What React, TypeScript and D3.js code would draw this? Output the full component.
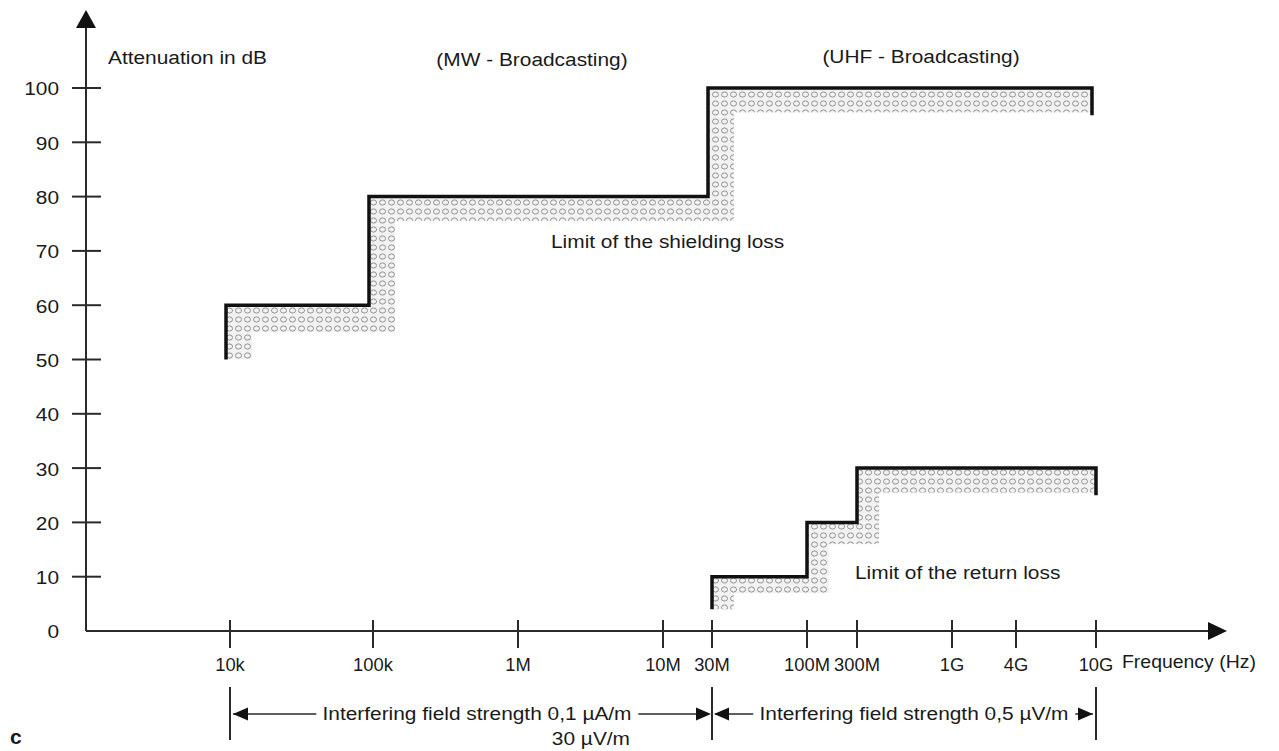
import React from "react";
import * as d3 from "d3";

// ---------- data ----------
const freqTicks = [1e4, 1e5, 1e6, 1e7, 3e7, 1e8, 3e8, 1e9, 4e9, 1e10];
const freqLabels = ["10k", "100k", "1M", "10M", "30M", "100M", "300M", "1G", "4G", "10G"];
const dbTicks = [0, 10, 20, 30, 40, 50, 60, 70, 80, 90, 100];

// Limit of the shielding loss (step curve)
const shieldEdges = [1e4, 1e5, 3e7, 1e10];
const shieldLevels = [60, 80, 100];
const shieldStart = 50;
const shieldEnd = 95;
const shieldHatchDepth = [5, 4.5, 4.5];

// Limit of the return loss (step curve)
const returnEdges = [3e7, 1e8, 3e8, 1e10];
const returnLevels = [10, 20, 30];
const returnStart = 4;
const returnEnd = 25;
const returnHatchDepth = [3, 4, 4.5];

// ---------- layout ----------
const W = 1279;
const H = 751;
const axisX = 86;
const axisY = 631;
const yTopPx = 88;
// schematic (non-uniform) frequency axis: pixel position of each tick
const xRangePx = [230, 373, 518, 663, 712, 807, 857, 952, 1016, 1096];

const x = d3.scaleLog().domain(freqTicks).range(xRangePx);
const y = d3.scaleLinear().domain([0, 100]).range([axisY, yTopPx]);

const FONT = "'Liberation Sans', Arial, sans-serif";
const SX = 1.16;

type TProps = {
  x: number;
  y: number;
  anchor?: "start" | "middle" | "end";
  size?: number;
  children: React.ReactNode;
  halo?: boolean;
  weight?: string;
  sx?: number;
};
function T({ x: tx, y: ty, anchor = "start", size = 18, children, halo, weight, sx = SX }: TProps) {
  return (
    <text
      transform={`translate(${tx},${ty}) scale(${sx},1)`}
      textAnchor={anchor}
      dominantBaseline="central"
      fontFamily={FONT}
      fontSize={size}
      fontWeight={weight}
      fill="#1a1a1a"
      stroke={halo ? "#fff" : undefined}
      strokeWidth={halo ? 14 : undefined}
      strokeLinejoin={halo ? "round" : undefined}
      paintOrder={halo ? "stroke" : undefined}
    >
      {children}
    </text>
  );
}

function stepPoints(edges: number[], levels: number[], start: number, end: number) {
  const pts: [number, number][] = [[edges[0], start]];
  levels.forEach((lv, i) => {
    pts.push([edges[i], lv]);
    pts.push([edges[i + 1], lv]);
  });
  pts.push([edges[edges.length - 1], end]);
  return pts;
}

function hatchRects(
  edges: number[],
  levels: number[],
  start: number,
  depth: number[],
  w: number,
  dx: number
) {
  const rects: { x: number; y: number; w: number; h: number }[] = [];
  const x0 = x(edges[0]) + dx;
  rects.push({ x: x0, y: y(levels[0]), w, h: y(start) - y(levels[0]) });
  levels.forEach((lv, i) => {
    const xa = x(edges[i]) + dx;
    const xb = x(edges[i + 1]) + dx;
    const last = i === levels.length - 1;
    rects.push({ x: xa, y: y(lv), w: xb - xa + (last ? 0 : w), h: y(lv - depth[i]) - y(lv) });
    if (!last) {
      rects.push({ x: xb, y: y(levels[i + 1]), w, h: y(lv) - y(levels[i + 1]) });
    }
  });
  return rects;
}

const line = d3
  .line<[number, number]>()
  .x((d) => x(d[0]))
  .y((d) => y(d[1]))
  .curve(d3.curveLinear);

export default function App() {
  const shieldDx = -4;
  const shieldPts = stepPoints(shieldEdges, shieldLevels, shieldStart, shieldEnd);
  const returnPts = stepPoints(returnEdges, returnLevels, returnStart, returnEnd);
  const shieldHatch = hatchRects(shieldEdges, shieldLevels, shieldStart, shieldHatchDepth, 26, shieldDx);
  const returnHatch = hatchRects(returnEdges, returnLevels, returnStart, returnHatchDepth, 22, 0);

  const axisColor = "#2a2a2a";
  const annY = 714;
  const xL = x(1e4);
  const xM = x(3e7);
  const xR = x(1e10);

  const arrow = (tipX: number, dir: number, key: string) => (
    <path
      key={key}
      d={`M${tipX},${annY} L${tipX + dir * 15},${annY - 6.5} L${tipX + dir * 15},${annY + 6.5} Z`}
      fill="#111"
    />
  );

  return (
    <svg
      width={W}
      height={H}
      viewBox={`0 0 ${W} ${H}`}
      style={{ position: "absolute", left: 0, top: 0, background: "#fff" }}
    >
      <defs>
        <pattern id="dots" width={9} height={9} patternUnits="userSpaceOnUse">
          <rect width={9} height={9} fill="#f2f2f2" />
          <ellipse cx={4.5} cy={4.5} rx={3} ry={2.6} fill="none" stroke="#858585" strokeWidth={0.9} />
        </pattern>
      </defs>

      {/* hatch bands */}
      <g>
        {shieldHatch.map((r, i) => (
          <rect key={"sh" + i} x={r.x} y={r.y} width={r.w} height={r.h} fill="url(#dots)" />
        ))}
        {returnHatch.map((r, i) => (
          <rect key={"rh" + i} x={r.x} y={r.y} width={r.w} height={r.h} fill="url(#dots)" />
        ))}
      </g>

      {/* step lines */}
      <path
        d={line(shieldPts) || ""}
        transform={`translate(${shieldDx},0)`}
        fill="none"
        stroke="#111"
        strokeWidth={3.5}
        strokeLinejoin="miter"
      />
      <path d={line(returnPts) || ""} fill="none" stroke="#111" strokeWidth={3.5} strokeLinejoin="miter" />

      {/* y axis */}
      <line x1={axisX} y1={axisY} x2={axisX} y2={26} stroke={axisColor} strokeWidth={2} />
      <path d={`M${axisX},10 L${axisX - 10},28 L${axisX + 10},28 Z`} fill="#111" />
      {dbTicks.slice(1).map((t) => (
        <line key={"yt" + t} x1={axisX - 14} x2={axisX + 15} y1={y(t)} y2={y(t)} stroke={axisColor} strokeWidth={2} />
      ))}
      {dbTicks.map((t) => (
        <T key={"yl" + t} x={59} y={y(t) + 1} anchor="end">
          {t}
        </T>
      ))}

      {/* x axis */}
      <line x1={axisX} y1={axisY} x2={1210} y2={axisY} stroke={axisColor} strokeWidth={2} />
      <path d={`M1227,${axisY} L1208,${axisY - 9} L1208,${axisY + 9} Z`} fill="#111" />
      {freqTicks.map((f) => (
        <line key={"xt" + f} x1={x(f)} x2={x(f)} y1={axisY - 11} y2={axisY + 17} stroke={axisColor} strokeWidth={2} />
      ))}
      {freqTicks.map((f, i) => (
        <T key={"xl" + f} x={x(f)} y={665} anchor="middle" sx={1.02}>
          {freqLabels[i]}
        </T>
      ))}
      <T x={xR + 26} y={662} sx={1.08}>Frequency (Hz)</T>

      {/* titles */}
      <T x={108} y={58}>Attenuation in dB</T>
      <T x={532} y={60} anchor="middle">(MW - Broadcasting)</T>
      <T x={921} y={57} anchor="middle">(UHF - Broadcasting)</T>
      <T x={551} y={242}>Limit of the shielding loss</T>
      <T x={855} y={573}>Limit of the return loss</T>

      {/* bottom annotations */}
      {[xL, xM, xR].map((xx, i) => (
        <line key={"bv" + i} x1={xx} x2={xx} y1={687} y2={740} stroke={axisColor} strokeWidth={2} />
      ))}
      <line x1={xL + 3} x2={xM - 3} y1={annY} y2={annY} stroke={axisColor} strokeWidth={1.5} />
      <line x1={xM + 3} x2={xR - 3} y1={annY} y2={annY} stroke={axisColor} strokeWidth={1.5} />
      {arrow(xL + 3, 1, "a1")}
      {arrow(xM - 1, -1, "a2")}
      {arrow(xM + 2, 1, "a3")}
      {arrow(xR - 3, -1, "a4")}
      <T x={(xL + xM) / 2 + 6} y={annY} anchor="middle" halo>
        Interfering field strength 0,1 µA/m
      </T>
      <T x={630} y={739} anchor="end">
        30 µV/m
      </T>
      <T x={(xM + xR) / 2 + 10} y={annY} anchor="middle" halo>
        Interfering field strength 0,5 µV/m
      </T>

      <T x={10} y={736} size={21} weight="bold" sx={1}>
        c
      </T>
    </svg>
  );
}
